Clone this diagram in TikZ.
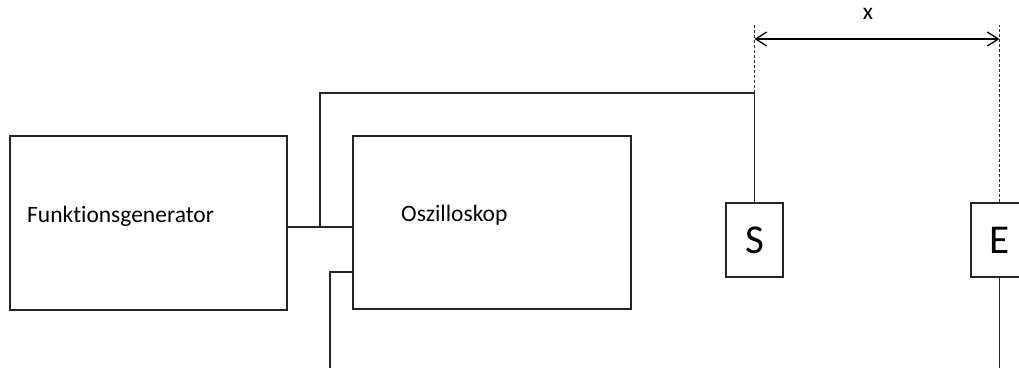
\documentclass[tikz,border=0pt]{standalone}
\usepackage{fontspec}
\setmainfont{Carlito}[Ligatures=NoCommon]
\usetikzlibrary{arrows.meta}
\begin{document}
\begin{tikzpicture}[x=1pt,y=-1pt,
  wire/.style={line width=1.5pt,draw=black!85},
  unit/.style={draw=black!85,line width=1.5pt,inner sep=0pt},
  probe/.style={unit,minimum width=57pt,minimum height=74pt,font=\fontsize{41}{44}\selectfont},
  lbl/.style={inner sep=0pt,anchor=base west,font=\fontsize{23.5}{26}\selectfont},
  guide/.style={line width=0.8pt,dash pattern=on 3pt off 2pt,draw=black!80},
  dim/.style={line width=1.5pt,{Straight Barb[length=11pt,width=14pt,line width=1.3pt]}-{Straight Barb[length=11pt,width=14pt,line width=1.3pt]}}]
\useasboundingbox (0,0) rectangle (1019,367);

% instruments
\node[unit,minimum width=277pt,minimum height=174pt] (fg) at (148.5,223) {};
\node[lbl] (fgtext) at (27,222) {Funktionsgenerator};
\node[unit,minimum width=278pt,minimum height=173pt] (osz) at (492,222.5) {};
\node[lbl] (osztext) at (401,221) {Oszilloskop};

% sender and receiver
\node[probe] (s) at (754.5,240) {S};
\node[probe] (e) at (999.5,240) {E};

% wiring
\coordinate (j1) at (320,227);
\coordinate (bend) at (320,93);
\coordinate (p1) at (330,272);
\coordinate (p2) at (330,368);
\draw[wire] (fg.east |- j1) -- (osz.west |- j1);
\draw[wire] (j1) -- (bend) -| (s.north);
\draw[wire] (osz.west |- p1) -- (p1) -- (p2);
\draw[wire] (e.south) -- (e.south |- p2);

% distance x
\coordinate (dtop) at (0,25);
\coordinate (dline) at (0,39);
\draw[guide] (s.north |- bend) -- (s.north |- dtop);
\draw[guide] (e.north) -- (e.north |- dtop);
\draw[dim] (s.north |- dline) -- (e.north |- dline);
\node[inner sep=0pt,anchor=base,font=\fontsize{23.5}{26}\selectfont] (xlbl) at (868,19) {x};
\end{tikzpicture}
\end{document}
